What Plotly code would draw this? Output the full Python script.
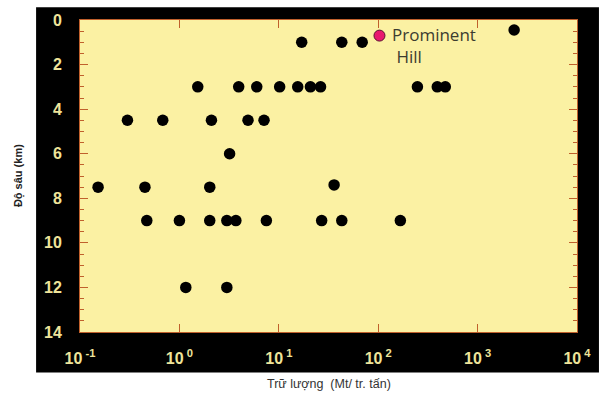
import math
import plotly.graph_objects as go

# ---- data ----
black_x = [17, 43, 69, 2330,
           1.53, 3.95, 6.0, 10.2, 15.5, 20.8, 26.3, 248, 393, 473,
           0.30, 0.68, 2.1, 4.9, 7.1,
           3.2,
           0.152, 0.45, 2.02, 36,
           0.47, 1.0, 2.02, 3.0, 3.7, 7.5, 27, 43, 167,
           1.16, 3.0]
black_y = [1.0, 1.0, 1.0, 0.45,
           3, 3, 3, 3, 3, 3, 3, 3, 3, 3,
           4.5, 4.5, 4.5, 4.5, 4.5,
           6,
           7.5, 7.5, 7.5, 7.4,
           9, 9, 9, 9, 9, 9, 9, 9, 9,
           12, 12]
pink_x = [103]
pink_y = [0.7]
pink_label = "Prominent<br>\u00a0Hill"

x_tickvals = [0.1, 1, 10, 100, 1000, 10000]
x_ticktext = ["10<sup> -1</sup>", "10<sup> 0</sup>", "10<sup> 1</sup>",
              "10<sup> 2</sup>", "10<sup> 3</sup>", "10<sup> 4</sup>"]
y_tickvals = [0, 2, 4, 6, 8, 10, 12, 14]

x_title = "Trữ lượng  (Mt/ tr. tấn)"
y_title = "Độ sâu (km)"

# ---- figure ----
W, H = 603, 397
L, R, T, B = 80, 25, 16, 65
pw, ph = W - L - R, H - T - B

def px_x(p):
    return (p - L) / pw

def px_y(p):
    return (H - B - p) / ph

YELLOW = "#fbf1a3"
TICK = "#c0602c"
LABEL = "#efe49a"

fig = go.Figure()
fig.add_trace(go.Scatter(x=black_x, y=black_y, mode="markers",
                         marker=dict(color="black", size=11.5, line=dict(width=0)),
                         showlegend=False))
fig.add_trace(go.Scatter(x=pink_x, y=pink_y, mode="markers",
                         marker=dict(color="#e8186e", size=11,
                                     line=dict(color="#5a1030", width=1)),
                         showlegend=False))

shapes = [
    dict(type="rect", xref="paper", yref="paper", layer="below",
         x0=px_x(36), x1=px_x(600), y0=px_y(373), y1=px_y(3),
         fillcolor="black", line=dict(width=0)),
    dict(type="rect", xref="paper", yref="paper", layer="below",
         x0=0, x1=1, y0=0, y1=1, fillcolor=YELLOW, line=dict(width=0)),
]

annotations = [
    dict(xref="x", yref="y", x=math.log10(pink_x[0]), y=pink_y[0],
         text=pink_label, showarrow=False, xanchor="left", yanchor="middle",
         align="left", xshift=11, yshift=-10,
         font=dict(family="Open Sans", size=17, color="#3c3c30")),
    dict(xref="paper", yref="paper", x=px_x(329), y=px_y(385),
         text=x_title, showarrow=False, xanchor="center", yanchor="middle",
         font=dict(family="Liberation Sans", size=12.5, color="#333333")),
    dict(xref="paper", yref="paper", x=px_x(18), y=0.5, textangle=-90,
         text="<b>" + y_title + "</b>", showarrow=False,
         xanchor="center", yanchor="middle",
         font=dict(family="Liberation Sans", size=11, color="#222222")),
]

fig.update_layout(
    width=W, height=H,
    margin=dict(l=L, r=R, t=T, b=B),
    paper_bgcolor="white",
    plot_bgcolor="rgba(0,0,0,0)",
    shapes=shapes,
    annotations=annotations,
    hovermode=False,
    xaxis=dict(type="log", range=[-1, 4], tickvals=x_tickvals, ticktext=x_ticktext,
               ticks="inside", ticklen=8, tickwidth=1, tickcolor=TICK,
               showline=True, linecolor=TICK, linewidth=1, mirror="ticks",
               showgrid=False, zeroline=False, ticklabelstandoff=12,
               tickfont=dict(family="Liberation Sans", size=16, color=LABEL,
                             weight="bold")),
    yaxis=dict(range=[14, 0], tickvals=y_tickvals,
               ticks="inside", ticklen=8, tickwidth=1, tickcolor=TICK,
               minor=dict(dtick=0.5, ticks="inside", ticklen=4, tickcolor=TICK,
                          showgrid=False),
               showline=True, linecolor=TICK, linewidth=1, mirror="ticks",
               showgrid=False, zeroline=False, ticklabelstandoff=14,
               tickfont=dict(family="Liberation Sans", size=16, color=LABEL,
                             weight="bold")),
)

fig.write_html("out.html", config={"displayModeBar": False},
               post_script="document.body.style.margin='0px';")
